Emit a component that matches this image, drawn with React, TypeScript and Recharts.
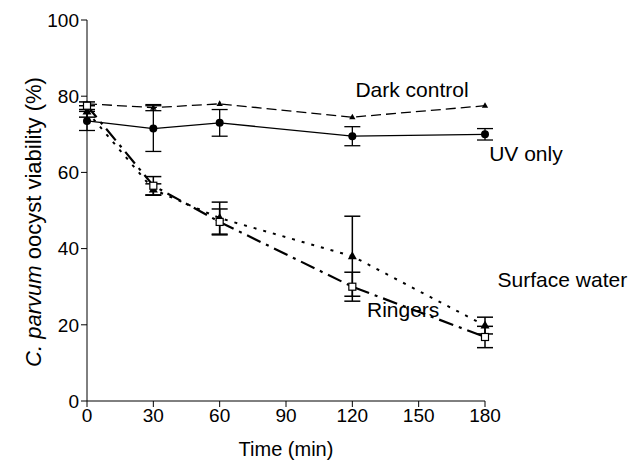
import React from 'react';
import { LineChart, Line, XAxis, YAxis, ErrorBar, ReferenceDot, Label } from 'recharts';

const times = [0, 30, 60, 120, 180];
const darkControl = [78, 77, 78, 74.5, 77.5];
const darkErr = [null, 0.8, null, null, null];
const uvOnly = [73.5, 71.5, 73, 69.5, 70];
const uvErr = [2.5, 6, 3.5, 2.5, 1.5];
const surfaceWater = [76, 55.5, 48, 38, 19.8];
const surfaceErr = [1.5, 1.5, 4.2, 10.5, 2.2];
const ringers = [77.5, 56.5, 47, 30, 16.8];
const ringersErr = [1, 2.4, 3.4, 3.8, 2.8];

const xTicks = [0, 30, 60, 90, 120, 150, 180];
const yTicks = [0, 20, 40, 60, 80, 100];

const seriesLabels = [
  { text: 'Dark control', x: 147, y: 81.8 },
  { text: 'UV only', x: 198.5, y: 64.9 },
  { text: 'Surface water', x: 215, y: 32 },
  { text: 'Ringers', x: 143, y: 24 },
];

const data = times.map((t, i) => ({
  time: t,
  dark: darkControl[i],
  darkErr: darkErr[i],
  uv: uvOnly[i],
  uvErr: uvErr[i],
  surface: surfaceWater[i],
  surfaceErr: surfaceErr[i],
  ringers: ringers[i],
  ringersErr: ringersErr[i],
}));

const font = 'Liberation Sans, Arial, sans-serif';
const fs = 19;

const Triangle = (size: number) => (props: any) => {
  const { cx, cy } = props;
  if (cx == null || cy == null) return null;
  const h = size;
  return (
    <polygon
      points={`${cx},${cy - h} ${cx - h * 0.9},${cy + h * 0.6} ${cx + h * 0.9},${cy + h * 0.6}`}
      fill="#000"
    />
  );
};

const Circle = (props: any) => {
  const { cx, cy } = props;
  if (cx == null || cy == null) return null;
  return <circle cx={cx} cy={cy} r={4} fill="#000" />;
};

const Square = (props: any) => {
  const { cx, cy } = props;
  if (cx == null || cy == null) return null;
  return <rect x={cx - 3.5} y={cy - 3.5} width={7} height={7} fill="#fff" stroke="#000" strokeWidth={1.2} />;
};

const YLabel = () => (
  <text
    x={33}
    y={222}
    transform="rotate(-90, 33, 222)"
    textAnchor="middle"
    dominantBaseline="central"
    fontFamily={font}
    fontSize={22}
    fill="#000"
  >
    <tspan fontStyle="italic">C. parvum</tspan>
    <tspan> oocyst viability (%)</tspan>
  </text>
);

export default function App() {
  return (
    <div style={{ position: 'absolute', left: 0, top: 0, background: '#fff' }}>
      <LineChart width={630} height={462} data={data} margin={{ top: 20, right: 145, bottom: 6, left: 27 }}>
        <XAxis
          dataKey="time"
          type="number"
          domain={[0, 180]}
          ticks={xTicks}
          height={55}
          stroke="#000"
          tickSize={6}
          tick={{ fill: '#000', fontSize: fs, fontFamily: font }}
        >
          <Label value="Time (min)" position="insideBottom" offset={0} fill="#000" fontSize={20} fontFamily={font} />
        </XAxis>
        <YAxis
          domain={[0, 100]}
          ticks={yTicks}
          width={60}
          stroke="#000"
          tickSize={6}
          tick={{ fill: '#000', fontSize: fs, fontFamily: font }}
          label={<YLabel />}
        />
        <Line
          dataKey="dark"
          stroke="#000"
          strokeWidth={1.3}
          strokeDasharray="10 5"
          dot={Triangle(3.5)}
          isAnimationActive={false}
        >
          <ErrorBar dataKey="darkErr" width={8} stroke="#000" strokeWidth={1.3} direction="y" />
        </Line>
        <Line dataKey="uv" stroke="#000" strokeWidth={1.3} dot={Circle} isAnimationActive={false}>
          <ErrorBar dataKey="uvErr" width={8} stroke="#000" strokeWidth={1.3} direction="y" />
        </Line>
        <Line
          dataKey="surface"
          stroke="#000"
          strokeWidth={2}
          strokeDasharray="3 7"
          dot={Triangle(5)}
          isAnimationActive={false}
        >
          <ErrorBar dataKey="surfaceErr" width={8} stroke="#000" strokeWidth={1.5} direction="y" />
        </Line>
        <Line
          dataKey="ringers"
          stroke="#000"
          strokeWidth={2.2}
          strokeDasharray="15 6 3 6"
          dot={Square}
          isAnimationActive={false}
        >
          <ErrorBar dataKey="ringersErr" width={8} stroke="#000" strokeWidth={1.5} direction="y" />
        </Line>
        {seriesLabels.map((l) => (
          <ReferenceDot key={l.text} x={l.x} y={l.y} r={0} ifOverflow="visible" stroke="none" fill="none">
            <Label value={l.text} position="center" fill="#000" fontSize={21} fontFamily={font} />
          </ReferenceDot>
        ))}
      </LineChart>
    </div>
  );
}
